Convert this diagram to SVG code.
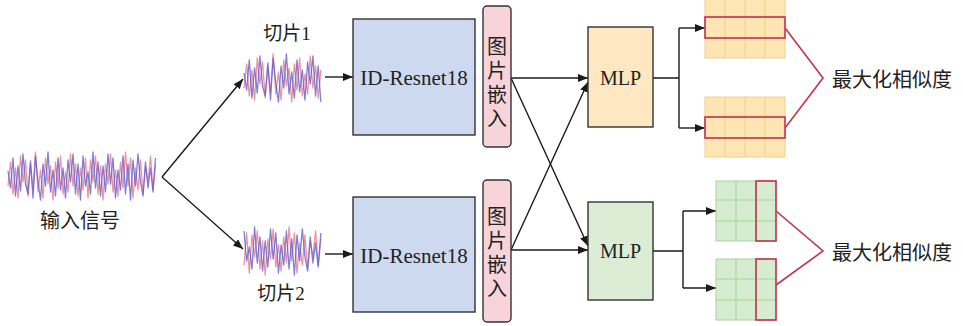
<svg xmlns="http://www.w3.org/2000/svg" width="963" height="326" viewBox="0 0 963 326">
<style>
.cn{font-family:"Noto Sans CJK SC","Noto Sans",sans-serif;fill:#222;}
.lat{font-family:"Liberation Serif","Noto Sans CJK SC",serif;fill:#222;}
.vt{font-family:"Noto Sans CJK SC","Noto Sans",sans-serif;fill:#222;writing-mode:vertical-rl;letter-spacing:4px;font-size:20px;}
.box{stroke:#333;stroke-width:1.4;}
.conn{stroke:#1a1a1a;stroke-width:1.4;fill:none;}
.red{stroke:#c3324f;stroke-width:1.6;fill:none;}
.pk{fill:none;stroke:#ee7f8e;stroke-width:1.3;stroke-opacity:0.85;vector-effect:non-scaling-stroke;stroke-linejoin:round;}
.bl{fill:none;stroke:#5f5fd0;stroke-width:1.3;stroke-opacity:0.8;vector-effect:non-scaling-stroke;stroke-linejoin:round;}
.yg{fill:#fde6b3;stroke:#f0cf8e;stroke-width:1;}
.gg{fill:#d6ecd0;stroke:#a9d2a0;stroke-width:1;}
</style>
<defs>
<marker id="ah" viewBox="0 0 10 8" refX="10" refY="4" markerWidth="10" markerHeight="8" markerUnits="userSpaceOnUse" orient="auto">
<path d="M0,0 L10,4 L0,8 Z" fill="#1a1a1a"/>
</marker>
</defs>

<g id="connectors">
<line class="conn" x1="162" y1="177" x2="243" y2="79" marker-end="url(#ah)"/>
<line class="conn" x1="162" y1="177" x2="243" y2="249" marker-end="url(#ah)"/>
<line class="conn" x1="325" y1="77" x2="353" y2="77" marker-end="url(#ah)"/>
<line class="conn" x1="325" y1="254" x2="353" y2="254" marker-end="url(#ah)"/>
<line class="conn" x1="511" y1="78" x2="588" y2="78" marker-end="url(#ah)"/>
<line class="conn" x1="511" y1="250" x2="588" y2="250" marker-end="url(#ah)"/>
<line class="conn" x1="511" y1="78" x2="588" y2="246" marker-end="url(#ah)"/>
<line class="conn" x1="511" y1="250" x2="588" y2="82" marker-end="url(#ah)"/>
<path class="conn" d="M653,78 H679 M679,28 V128"/>
<line class="conn" x1="679" y1="28" x2="705" y2="28" marker-end="url(#ah)"/>
<line class="conn" x1="679" y1="128" x2="705" y2="128" marker-end="url(#ah)"/>
<path class="conn" d="M653,251 H683 M683,211 V288"/>
<line class="conn" x1="683" y1="211" x2="716" y2="211" marker-end="url(#ah)"/>
<line class="conn" x1="683" y1="288" x2="716" y2="288" marker-end="url(#ah)"/>
<path class="red" d="M785,28 L823,78 L785,128"/>
<path class="red" d="M776,211 L823,251 L776,285"/>
</g>

<g id="input-signal">
<g transform="translate(8,176) scale(2.5,1)">
<polyline class="pk" points="0,10 1,-14 2,18 3,-8 4,22 5,-20 6,6 7,-16 8,20 9,-12 10,14 11,-24 12,16 13,-6 14,22 15,-18 16,8 17,-10 18,24 19,-14 20,12 21,-20 22,18 23,-4 24,16 25,-22 26,10 27,-12 28,20 29,-8 30,14 31,-18 32,22 33,-16 34,6 35,-20 36,18 37,-10 38,24 39,-12 40,8 41,-22 42,16 43,-6 44,20 45,-14 46,12 47,-24 48,10 49,-18 50,22 51,-8 52,14 53,-16 54,18 55,-10 56,6 57,-20 58,14 59,-12"/>
<polyline class="bl" points="0,-5 1,12 2,-18 3,20 4,-10 5,15 6,-22 7,8 8,18 9,-15 10,22 11,-20 12,5 13,24 14,-12 15,10 16,-24 17,16 18,-6 19,20 20,-18 21,14 22,-8 23,22 24,-16 25,6 26,-22 27,18 28,-12 29,24 30,-20 31,10 32,-4 33,18 34,-24 35,12 36,-14 37,20 38,-10 39,16 40,-22 41,8 42,-18 43,22 44,-6 45,14 46,-20 47,18 48,-12 49,24 50,-16 51,10 52,-22 53,6 54,20 55,-14 56,12 57,-8 58,16 59,-18"/>
</g>
<text class="cn" x="80" y="219" font-size="20" text-anchor="middle" dominant-baseline="central">输入信号</text>
</g>

<g id="slice1">
<g transform="translate(244,78) scale(2.65,1)">
<polyline class="pk" points="0,10 1,-14 2,18 3,-8 4,22 5,-20 6,6 7,-16 8,20 9,-12 10,14 11,-24 12,16 13,-6 14,22 15,-18 16,8 17,-10 18,24 19,-14 20,12 21,-20 22,18 23,-4 24,16 25,-22 26,10 27,-12 28,20 29,-8"/>
<polyline class="bl" points="0,-5 1,12 2,-18 3,20 4,-10 5,15 6,-22 7,8 8,18 9,-15 10,22 11,-20 12,5 13,24 14,-12 15,10 16,-24 17,16 18,-6 19,20 20,-18 21,14 22,-8 23,22 24,-16 25,6 26,-22 27,18 28,-12 29,24"/>
</g>
<text class="lat" x="287" y="33" font-size="19" text-anchor="middle" dominant-baseline="central">切片1</text>
</g>

<g id="slice2">
<g transform="translate(164.5,251) scale(2.65,1)">
<polyline class="pk" points="30,14 31,-18 32,22 33,-16 34,6 35,-20 36,18 37,-10 38,24 39,-12 40,8 41,-22 42,16 43,-6 44,20 45,-14 46,12 47,-24 48,10 49,-18 50,22 51,-8 52,14 53,-16 54,18 55,-10 56,6 57,-20 58,14 59,-12"/>
<polyline class="bl" points="30,-20 31,10 32,-4 33,18 34,-24 35,12 36,-14 37,20 38,-10 39,16 40,-22 41,8 42,-18 43,22 44,-6 45,14 46,-20 47,18 48,-12 49,24 50,-16 51,10 52,-22 53,6 54,20 55,-14 56,12 57,-8 58,16 59,-18"/>
</g>
<text class="lat" x="281" y="293" font-size="19" text-anchor="middle" dominant-baseline="central">切片2</text>
</g>

<g id="resnet1">
<rect class="box" x="353" y="19" width="122" height="116" fill="#cdd9ee"/>
<text class="lat" x="414" y="78" font-size="21" text-anchor="middle" dominant-baseline="central">ID-Resnet18</text>
</g>
<g id="resnet2">
<rect class="box" x="353" y="197" width="122" height="115" fill="#cdd9ee"/>
<text class="lat" x="414" y="256" font-size="21" text-anchor="middle" dominant-baseline="central">ID-Resnet18</text>
</g>

<g id="embed1">
<rect class="box" x="483" y="6" width="28" height="141" rx="4" fill="#f9d3da"/>
<text class="vt" x="497" y="36">图片嵌入</text>
</g>
<g id="embed2">
<rect class="box" x="483" y="180" width="28" height="142" rx="4" fill="#f9d3da"/>
<text class="vt" x="497" y="206">图片嵌入</text>
</g>

<g id="mlp1">
<rect class="box" x="588" y="27" width="65" height="100" fill="#fde8c1"/>
<text class="lat" x="620.5" y="78" font-size="20" text-anchor="middle" dominant-baseline="central">MLP</text>
</g>
<g id="mlp2">
<rect class="box" x="588" y="202" width="65" height="98" fill="#dcedd6"/>
<text class="lat" x="620.5" y="251" font-size="20" text-anchor="middle" dominant-baseline="central">MLP</text>
</g>

<g id="grid-top-a">
<rect class="yg" x="705" y="-4" width="80" height="62"/>
<path class="yg" d="M725,-4 V58 M745,-4 V58 M765,-4 V58 M705,17 H785 M705,38 H785"/>
<rect class="red" x="705" y="17" width="80" height="21"/>
</g>
<g id="grid-top-b">
<rect class="yg" x="705" y="97" width="80" height="60"/>
<path class="yg" d="M725,97 V157 M745,97 V157 M765,97 V157 M705,117 H785 M705,138 H785"/>
<rect class="red" x="705" y="117" width="80" height="21"/>
</g>
<g id="grid-bottom-a">
<rect class="gg" x="716" y="181" width="60" height="60"/>
<path class="gg" d="M736,181 V241 M756,181 V241 M716,200 H776 M716,221 H776"/>
<rect class="red" x="756" y="181" width="20" height="60"/>
</g>
<g id="grid-bottom-b">
<rect class="gg" x="716" y="259" width="60" height="61"/>
<path class="gg" d="M736,259 V320 M756,259 V320 M716,279 H776 M716,300 H776"/>
<rect class="red" x="756" y="259" width="20" height="61"/>
</g>

<g id="label-top">
<text class="cn" x="832" y="78" font-size="20" dominant-baseline="central">最大化相似度</text>
</g>
<g id="label-bottom">
<text class="cn" x="832" y="251" font-size="20" dominant-baseline="central">最大化相似度</text>
</g>
</svg>
